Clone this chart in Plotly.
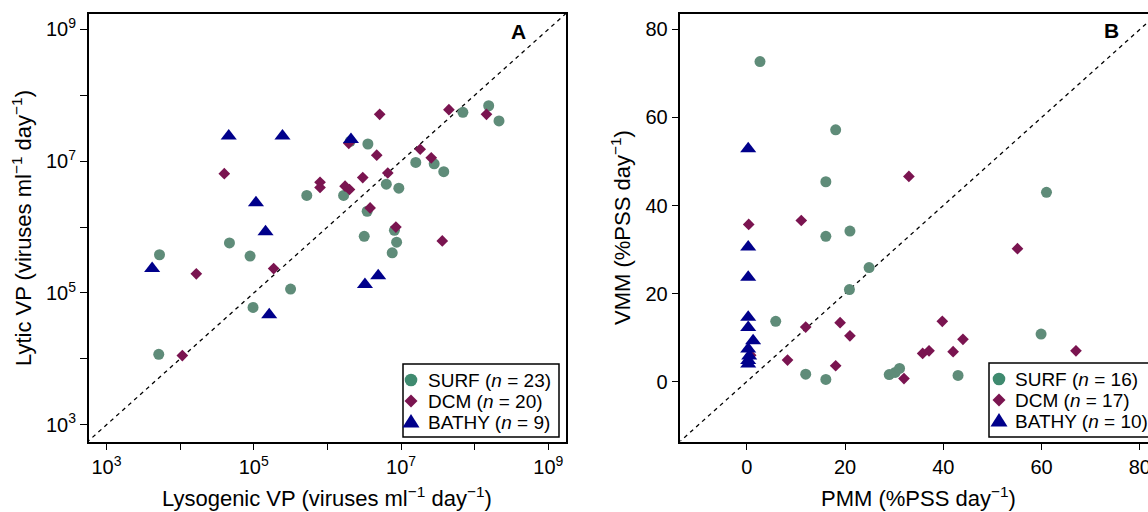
import plotly.graph_objects as go

# ---------------- Panel A data (viruses ml-1 day-1, log10 values) ----------------
surf_lyso_log = [6.31, 6.55, 7.84, 8.19, 8.33, 7.20, 7.45, 7.58, 6.80, 6.97, 5.72, 6.22,
                 6.54, 6.50, 6.91, 6.94, 6.88, 4.67, 4.95, 3.72, 5.50, 4.99, 3.71]
surf_lytic_log = [7.30, 7.26, 7.74, 7.84, 7.61, 6.98, 6.96, 6.84, 6.65, 6.59, 6.48, 6.48,
                  6.24, 5.86, 5.95, 5.77, 5.61, 5.76, 5.56, 5.58, 5.06, 4.78, 4.07]
dcm_lyso_log = [6.71, 7.65, 8.16, 6.29, 6.67, 7.26, 7.41, 6.82, 6.48, 4.60, 5.90, 5.90,
                6.24, 6.30, 6.58, 6.93, 7.56, 4.22, 5.27, 4.03]
dcm_lytic_log = [7.71, 7.78, 7.71, 7.27, 7.09, 7.18, 7.05, 6.82, 6.75, 6.81, 6.68, 6.60,
                 6.62, 6.57, 6.29, 6.00, 5.79, 5.29, 5.37, 4.05]
bathy_lyso_log = [4.66, 5.39, 6.32, 5.03, 5.16, 3.62, 5.21, 6.51, 6.69]
bathy_lytic_log = [7.38, 7.38, 7.33, 6.37, 5.93, 5.37, 4.67, 5.13, 5.26]

# ---------------- Panel B data (%PSS day-1) ----------------
surf_pmm = [2.7, 18.1, 16.1, 61.0, 16.1, 21.0, 24.9, 20.9, 5.9, 59.9, 12.0, 16.1, 29.0, 30.2, 31.1, 43.0]
surf_vmm = [72.7, 57.2, 45.4, 43.0, 33.0, 34.2, 25.9, 20.9, 13.7, 10.8, 1.7, 0.5, 1.6, 2.1, 3.0, 1.4]
dcm_pmm = [33.0, 11.1, 0.4, 55.1, 12.0, 19.0, 21.0, 8.3, 18.1, 32.0, 39.8, 44.0, 35.8, 37.1, 42.0, 67.0, 0.8]
dcm_vmm = [46.6, 36.6, 35.7, 30.2, 12.4, 13.4, 10.4, 4.9, 3.6, 0.7, 13.7, 9.6, 6.4, 7.0, 6.8, 7.0, 6.0]
bathy_pmm = [0.3, 0.3, 0.3, 0.3, 0.3, 1.3, 0.3, 0.3, 0.3, 0.5]
bathy_vmm = [52.9, 30.6, 23.7, 14.6, 12.3, 9.3, 7.4, 4.8, 4.0, 5.8]

group_names = ["SURF", "DCM", "BATHY"]
n_a = [23, 20, 9]
n_b = [16, 17, 10]

decades = [3, 4, 5, 6, 7, 8, 9]
b_ticks = [0, 20, 40, 60, 80]

# ---------------- styles ----------------
FONT = "Liberation Sans, Arial, Helvetica, sans-serif"
pt_colors = ["#5f8c79", "#7a1450", "#00008b"]
leg_colors = ["#3f8a6f", "#7a1450", "#00008b"]
symbols = ["circle", "diamond", "triangle-up"]
sizes = [11, 9, 14]

W, H = 1148, 512
def px(x):
    return x / W
def py(y):
    return (H - y) / H

fig = go.Figure()

a_sets = [(surf_lyso_log, surf_lytic_log), (dcm_lyso_log, dcm_lytic_log), (bathy_lyso_log, bathy_lytic_log)]
b_sets = [(surf_pmm, surf_vmm), (dcm_pmm, dcm_vmm), (bathy_pmm, bathy_vmm)]

# 1:1 lines
fig.add_trace(go.Scatter(x=[10 ** 2, 10 ** 10], y=[10 ** 2, 10 ** 10], mode="lines",
                         line=dict(color="black", width=1.3, dash="4px,4px"),
                         showlegend=False, hoverinfo="skip", xaxis="x", yaxis="y"))
fig.add_trace(go.Scatter(x=[-20, 100], y=[-20, 100], mode="lines",
                         line=dict(color="black", width=1.3, dash="4px,4px"),
                         showlegend=False, hoverinfo="skip", xaxis="x2", yaxis="y2"))

for i, (xs, ys) in enumerate(a_sets):
    fig.add_trace(go.Scatter(x=[10 ** v for v in xs], y=[10 ** v for v in ys], mode="markers",
                             name=group_names[i],
                             marker=dict(symbol=symbols[i], size=sizes[i], color=pt_colors[i],
                                         line=dict(width=0)),
                             showlegend=False, xaxis="x", yaxis="y"))
for i, (xs, ys) in enumerate(b_sets):
    fig.add_trace(go.Scatter(x=xs, y=ys, mode="markers",
                             name=group_names[i],
                             marker=dict(symbol=symbols[i], size=sizes[i], color=pt_colors[i],
                                         line=dict(width=0)),
                             showlegend=False, xaxis="x2", yaxis="y2"))

axis_common = dict(showline=True, linecolor="black", linewidth=1.5, ticks="outside",
                   ticklen=7, tickwidth=1.3, tickcolor="black", showgrid=False, zeroline=False,
                   tickfont=dict(family=FONT, size=20, color="black"), automargin=False,
                   ticklabeloverflow="allow")

ydom = [py(441.5), py(14)]

fig.update_layout(
    width=W, height=H,
    margin=dict(l=0, r=0, t=0, b=0),
    paper_bgcolor="white", plot_bgcolor="white",
    font=dict(family=FONT, color="black"),
    showlegend=False,
    xaxis=dict(type="log", range=[2.76, 9.24], domain=[px(88.8), px(566)], anchor="y",
               tickvals=[10 ** d for d in decades],
               ticktext=[f"10<sup>{d}</sup>" if d % 2 == 1 else "" for d in decades],
               mirror=True, **axis_common),
    yaxis=dict(type="log", range=[2.747, 9.232], domain=ydom, anchor="x",
               tickvals=[10 ** d for d in decades],
               ticktext=[f"10<sup>{d}</sup>" if d % 2 == 1 else "" for d in decades],
               mirror=True, **axis_common),
    xaxis2=dict(range=[-13.5, 81.66], domain=[px(680.4), 1.0], anchor="y2",
                tickvals=b_ticks, mirror=True, **axis_common),
    yaxis2=dict(range=[-13.6, 83.5], domain=ydom, anchor="x2",
                tickvals=b_ticks, mirror=False, **axis_common),
)

# ---------------- custom legends (box, swatches, labels) ----------------
shapes = []
ann = []
leg_font = dict(family=FONT, size=19, color="black")

def legend_block(box_l, box_r, box_t, box_b, mark_x, text_x, rows, counts):
    shapes.append(dict(type="rect", xref="paper", yref="paper",
                       x0=px(box_l), x1=px(box_r), y0=py(box_b), y1=py(box_t),
                       line=dict(color="black", width=1.5), fillcolor="white", layer="above"))
    for i, name in enumerate(group_names):
        cy = rows[i]
        common = dict(xref="paper", yref="paper", xsizemode="pixel", ysizemode="pixel",
                      xanchor=px(mark_x), yanchor=py(cy), fillcolor=leg_colors[i],
                      line=dict(width=0), layer="above")
        if symbols[i] == "circle":
            shapes.append(dict(type="circle", x0=-6.3, x1=6.3, y0=-6.3, y1=6.3, **common))
        elif symbols[i] == "diamond":
            shapes.append(dict(type="path", path="M 0,-6.5 L 6.5,0 L 0,6.5 L -6.5,0 Z", **common))
        else:
            shapes.append(dict(type="path", path="M -8.5,-5.5 L 8.5,-5.5 L 0,8 Z", **common))
        ann.append(dict(text=f"{name} (<i>n</i> = {counts[i]})", x=px(text_x), y=py(cy),
                        xref="paper", yref="paper", showarrow=False, xanchor="left",
                        yanchor="middle", font=leg_font, borderpad=0))

legend_block(403, 559, 364, 437, 411, 427, [380, 401, 422], n_a)
legend_block(989, 1150, 363, 437, 999, 1014, [379, 400, 421], n_b)

title_font = dict(family=FONT, size=22, color="black")
ann += [
    dict(text="Lysogenic VP (viruses ml<sup>−1</sup> day<sup>−1</sup>)", x=px(327.4), y=py(497),
         xref="paper", yref="paper", showarrow=False, xanchor="center", yanchor="middle", font=title_font),
    dict(text="Lytic VP (viruses ml<sup>−1</sup> day<sup>−1</sup>)", x=px(22), y=py(228),
         xref="paper", yref="paper", showarrow=False, xanchor="center", yanchor="middle",
         textangle=-90, font=title_font),
    dict(text="PMM (%PSS day<sup>−1</sup>)", x=px(918), y=py(497),
         xref="paper", yref="paper", showarrow=False, xanchor="center", yanchor="middle", font=title_font),
    dict(text="VMM (%PSS day<sup>−1</sup>)", x=px(621), y=py(228),
         xref="paper", yref="paper", showarrow=False, xanchor="center", yanchor="middle",
         textangle=-90, font=title_font),
    dict(text="<b>A</b>", x=px(518), y=py(31), xref="paper", yref="paper", showarrow=False,
         xanchor="center", yanchor="middle", font=dict(family=FONT, size=21, color="black")),
    dict(text="<b>B</b>", x=px(1111.5), y=py(30), xref="paper", yref="paper", showarrow=False,
         xanchor="center", yanchor="middle", font=dict(family=FONT, size=21, color="black")),
]
fig.update_layout(shapes=shapes, annotations=ann)

fig.write_html("out.html", config={"displayModeBar": False},
               post_script="document.body.style.margin='0';document.body.style.overflow='hidden';")
